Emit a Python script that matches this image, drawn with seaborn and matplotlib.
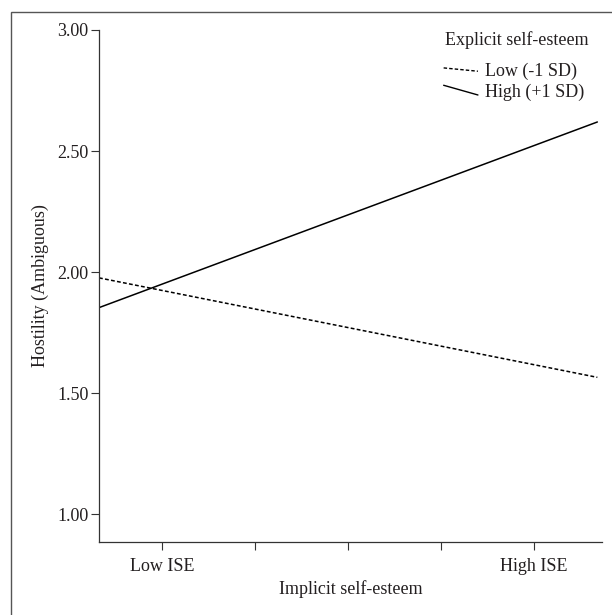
import numpy as np
import pandas as pd
import seaborn as sns
import matplotlib
matplotlib.use('Agg')
from matplotlib import pyplot as plt
from matplotlib.patches import Rectangle
from matplotlib.lines import Line2D
from matplotlib.legend_handler import HandlerLine2D

# values
ise_pos = [0.32, 5.68]                 # line ends, in tick units (ticks at 1..5)
low_ese = [1.976, 1.565]               # Low (-1 SD), dashed
high_ese = [1.853, 2.62]               # High (+1 SD), solid
group_names = ['Low (-1 SD)', 'High (+1 SD)']
xtick_pos = [1, 2, 3, 4, 5]
xtick_labels = ['Low ISE', '', '', '', 'High ISE']
ytick_pos = [1.0, 1.5, 2.0, 2.5, 3.0]

df = pd.DataFrame({
    'ise': ise_pos * 2,
    'hostility': low_ese + high_ese,
    'group': [group_names[0]] * 2 + [group_names[1]] * 2,
})


class SlantHandler(HandlerLine2D):
    # legend key drawn as a slightly tilted line, like the original figure
    def __init__(self, drop, **kw):
        super().__init__(**kw)
        self.drop = drop

    def create_artists(self, legend, orig_handle, xdescent, ydescent, width, height, fontsize, trans):
        yc = (height - ydescent) / 2
        line = Line2D([-xdescent, width - xdescent], [yc + self.drop, yc - self.drop])
        self.update_prop(line, orig_handle, legend)
        line.set_marker('None')
        line.set_transform(trans)
        return [line]


sns.set_style('ticks')
plt.rcParams['font.family'] = ['Liberation Serif', 'DejaVu Serif']
ink = '#231f20'
plt.rcParams['text.color'] = ink
plt.rcParams['axes.labelcolor'] = ink
plt.rcParams['xtick.color'] = '#333333'
plt.rcParams['ytick.color'] = '#333333'
plt.rcParams['xtick.labelcolor'] = ink
plt.rcParams['ytick.labelcolor'] = ink

fig = plt.figure(figsize=(6.12, 6.15), dpi=100)
ax = fig.add_axes([99 / 612, 1 - 541.7 / 615, (602 - 99) / 612, (541.7 - 30) / 615])

sns.lineplot(data=df, x='ise', y='hostility', style='group', style_order=group_names,
             dashes={group_names[0]: (2.5, 1.5), group_names[1]: ''},
             color='black', lw=1.1, ax=ax)

ax.set_xlim(0.32, 5.73)
ax.set_ylim(0.886, 3.0)
ax.set_xticks(xtick_pos)
ax.set_xticklabels(xtick_labels)
ax.set_yticks(ytick_pos)
ax.set_yticklabels(['%.2f' % v for v in ytick_pos])
ax.tick_params(labelsize=13, length=5.5, width=0.8, direction='out', pad=2)
ax.tick_params(axis='x', length=6, pad=5.5)
ax.set_xlabel('Implicit self-esteem', fontsize=13, labelpad=4)
ax.set_ylabel('Hostility (Ambiguous)', fontsize=13, labelpad=6)
sns.despine(ax=ax)
for s in ['left', 'bottom']:
    ax.spines[s].set_color('#333333')
    ax.spines[s].set_linewidth(0.9)

handles, labels = ax.get_legend_handles_labels()
leg = ax.legend(handles, labels, loc='upper left',
                bbox_to_anchor=(431 / 612, 1 - 50 / 615), bbox_transform=fig.transFigure,
                frameon=False, fontsize=13, handlelength=1.9, handletextpad=0.4,
                labelspacing=0.18, borderpad=0.2,
                handler_map={handles[0]: SlantHandler(1.2), handles[1]: SlantHandler(3.5)})
for h in leg.get_lines():
    h.set_linewidth(1.0)
fig.text(445 / 612, 1 - 40 / 615, 'Explicit self-esteem', fontsize=13, ha='left', va='center')

# outer frame, cut off at the right and bottom edges
fig.patches.append(Rectangle((11 / 612, -0.1), 1.2, 1 - 12 / 615 + 0.1, transform=fig.transFigure,
                             fill=False, edgecolor='#555555', lw=1.0))

fig.savefig('out.png', dpi=100)
